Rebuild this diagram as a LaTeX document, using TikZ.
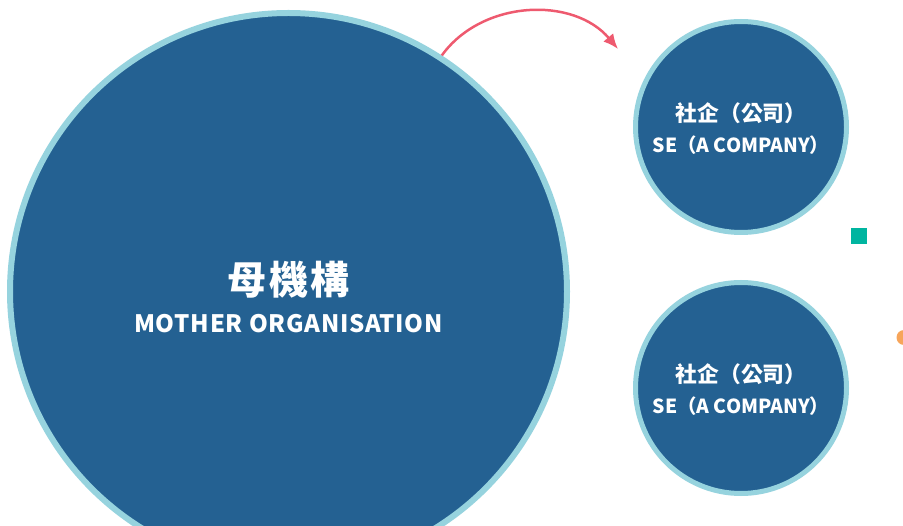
\documentclass[tikz,border=0pt]{standalone}
\usepackage{fontspec}
\newfontfamily\cjk{Noto Sans CJK TC}
\newfontfamily\cjkbig{Noto Sans CJK TC}[LetterSpace=6]
\newfontfamily\cjkspaced{Noto Sans CJK TC}[LetterSpace=3]
\usetikzlibrary{arrows.meta}
\usetikzlibrary{positioning}
\definecolor{orgblue}{HTML}{246192}
\definecolor{ringblue}{HTML}{96D3DE}
\definecolor{arrowred}{HTML}{EE5A6F}
\definecolor{dotteal}{HTML}{00B5A0}
\definecolor{dotorange}{HTML}{F7A55A}

\begin{document}
\begin{tikzpicture}[x=1pt,y=-1pt]
				\tikzset{mother/.style = {shape=circle,draw=ringblue,fill=orgblue,
						line width=6pt,minimum size=557pt,inner sep=0pt,
						text=white,align=center}}
				\tikzset{social/.style = {shape=circle,draw=ringblue,fill=orgblue,
						line width=5pt,minimum size=211pt,inner sep=0pt,
						text=white,align=center}}
				\tikzset{edge/.style = {-{Latex[length=15pt,width=13pt]},arrowred,line width=2.5pt}}
				\useasboundingbox (0,0) rectangle (903,526);
				
				% circles
				\node[mother] (org) at (288.5,291.5) {{\cjkbig\bfseries\fontsize{39}{40}\selectfont\rule{0pt}{44pt}母機構}\\[15pt]
					{\cjkspaced\bfseries\fontsize{24}{28}\selectfont MOTHER ORGANISATION}};
				\node[social] (se1) at (741,127) {{\cjk\bfseries\fontsize{21.8}{24}\selectfont\rule{0pt}{22pt}社企（公司）}\\[12pt]
					{\cjk\bfseries\fontsize{19.4}{22}\selectfont SE（A COMPANY）}};
				\node[social] (se2) at (741,388) {{\cjk\bfseries\fontsize{21.8}{24}\selectfont\rule{0pt}{22pt}社企（公司）}\\[12pt]
					{\cjk\bfseries\fontsize{19.4}{22}\selectfont SE（A COMPANY）}};
				
				% dots
				\node[fill=dotteal,minimum size=16pt,inner sep=0pt] (sq) at (859,236) {};
				\node[circle,fill=dotorange,minimum size=15pt,inner sep=0pt] (dot) at (904,337.5) {};
				
				%edges
				\coordinate (tip) at (618,49);
				\draw[edge, bend left = 52] (org.57) to (tip);
				
\end{tikzpicture}
\end{document}
